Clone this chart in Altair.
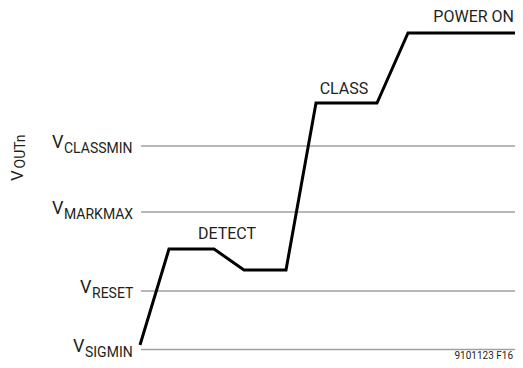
import altair as alt
import pandas as pd

FONT = "Roboto"

# waveform (time, level) (arbitrary units)
t_vals = [132, 161, 206, 236, 278, 308, 369, 400, 515]
v_vals = [15, 111, 111, 90, 90, 257, 257, 327, 327]

# threshold levels
lvl_names = ["CLASSMIN", "MARKMAX", "RESET", "SIGMIN"]
lvl_vals = [214, 148, 69, 10.5]
lvl_vx = [44, 44, 72, 65]        # where the "V" of each label starts
lvl_start = 133
lvl_end = 515

# phase labels
phase_text = ["DETECT", "CLASS", "POWER ON"]
phase_t = [219, 336, 506]
phase_v = [121, 266, 338]
phase_align = ["center", "center", "right"]

X = alt.Scale(domain=[0, 507], nice=False, zero=False)
Y = alt.Scale(domain=[0, 352], nice=False, zero=False)

line_df = pd.DataFrame({"t": t_vals, "v": v_vals})
rule_df = pd.DataFrame({"name": lvl_names, "v": lvl_vals,
                        "x1": [lvl_start] * 4, "x2": [lvl_end] * 4})
lab_df = pd.DataFrame({"V": ["V"] * 4, "sub": lvl_names,
                       "x": lvl_vx, "xs": [x + 12 for x in lvl_vx],
                       "y": [v - 2 for v in lvl_vals],
                       "ys": [v - 7 for v in lvl_vals]})
ph_df = pd.DataFrame({"text": phase_text, "t": phase_t, "v": phase_v, "al": phase_align})

rules = alt.Chart(rule_df).mark_rule(color="#a0a0a0", strokeWidth=1.5).encode(
    x=alt.X("x1:Q", scale=X, axis=None), x2="x2:Q",
    y=alt.Y("v:Q", scale=Y, axis=None))

line = alt.Chart(line_df).mark_line(color="#000000", strokeWidth=3, strokeJoin="miter").encode(
    x=alt.X("t:Q", scale=X, axis=None), y=alt.Y("v:Q", scale=Y, axis=None))

vtxt = alt.Chart(lab_df).mark_text(font=FONT, fontSize=18, align="left",
                                   baseline="alphabetic", color="#231f20").encode(
    x=alt.X("x:Q", scale=X, axis=None), y=alt.Y("y:Q", scale=Y, axis=None), text="V:N")
stxt = alt.Chart(lab_df).mark_text(font=FONT, fontSize=14, align="left",
                                   baseline="alphabetic", color="#231f20").encode(
    x=alt.X("xs:Q", scale=X, axis=None), y=alt.Y("ys:Q", scale=Y, axis=None), text="sub:N")

ph_center = alt.Chart(ph_df[ph_df.al == "center"]).mark_text(
    font=FONT, fontSize=16, align="center", baseline="alphabetic", color="#231f20").encode(
    x=alt.X("t:Q", scale=X, axis=None), y=alt.Y("v:Q", scale=Y, axis=None), text="text:N")
ph_right = alt.Chart(ph_df[ph_df.al == "right"]).mark_text(
    font=FONT, fontSize=16, align="right", baseline="alphabetic", color="#231f20").encode(
    x=alt.X("t:Q", scale=X, axis=None), y=alt.Y("v:Q", scale=Y, axis=None), text="text:N")

# y title V_OUTn (rotated)
title_df = pd.DataFrame({"V": ["V"], "sub": ["OUTn"], "x": [15], "y": [179],
                         "xs": [17], "ys": [191.5]})
tv = alt.Chart(title_df).mark_text(font=FONT, fontSize=17, angle=270, align="left",
                                   baseline="alphabetic", color="#231f20").encode(
    x=alt.X("x:Q", scale=X, axis=None), y=alt.Y("y:Q", scale=Y, axis=None), text="V:N")
ts = alt.Chart(title_df).mark_text(font=FONT, fontSize=14, angle=270, align="left",
                                   baseline="alphabetic", color="#231f20").encode(
    x=alt.X("xs:Q", scale=X, axis=None), y=alt.Y("ys:Q", scale=Y, axis=None), text="sub:N")

code_df = pd.DataFrame({"text": ["9101123 F16"], "t": [505], "v": [1]})
code = alt.Chart(code_df).mark_text(font=FONT, fontSize=10, align="right",
                                    baseline="alphabetic", color="#231f20").encode(
    x=alt.X("t:Q", scale=X, axis=None), y=alt.Y("v:Q", scale=Y, axis=None), text="text:N")

chart = alt.layer(rules, line, vtxt, stxt, ph_center, ph_right, tv, ts, code).properties(
    width=507, height=352, padding=0, autosize=alt.AutoSizeParams(type="none")
).configure(background="white").configure_view(stroke=None)

chart.save("out.html", embed_options={"renderer": "svg", "actions": False})
